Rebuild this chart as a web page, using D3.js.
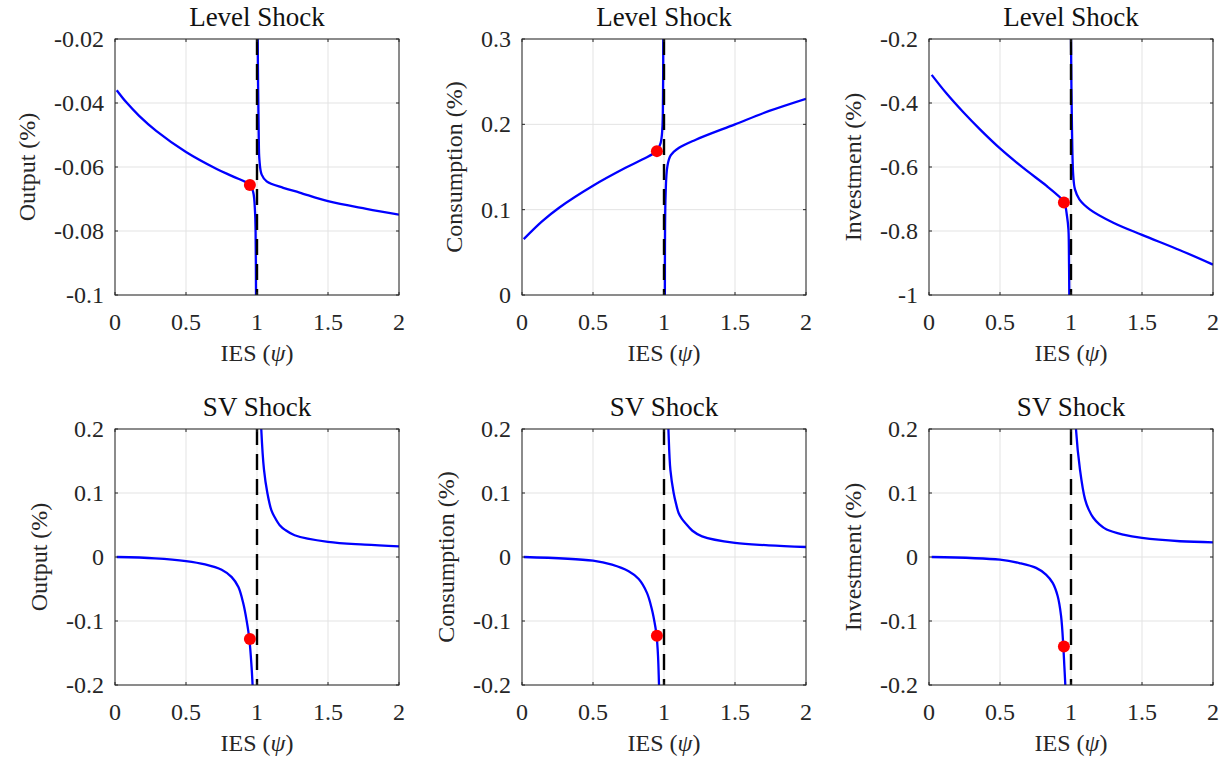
<!DOCTYPE html>
<html>
<head>
<meta charset="utf-8">
<script src="https://cdn.jsdelivr.net/npm/d3@7"></script>
<style>
  html, body { margin: 0; padding: 0; background: #fff; }
  svg text { font-family: "Liberation Serif", "Times New Roman", serif; fill: #262626; }
</style>
</head>
<body>
<svg id="chart" width="1231" height="761"></svg>
<script>
// ---------------- data ----------------
const xTicks = [0, 0.5, 1, 1.5, 2];
const xTickLabels = ["0", "0.5", "1", "1.5", "2"];
const steadyPsi = 0.95;   // red marker position
const asymptotePsi = 1;   // dashed vertical line

// Level shock, Output
const levelOutputLeft = [[0.012,-0.0360],[0.08,-0.0398],[0.17,-0.0440],[0.29,-0.0487],[0.5,-0.0553],[0.716,-0.0606],[0.833,-0.0630],[0.951,-0.0656],[0.974,-0.068],[0.986,-0.074],[0.990,-0.080],[0.993,-0.100],[0.994,-0.110]];
const levelOutputRight = [[1.004,-0.012],[1.005,-0.020],[1.012,-0.0494],[1.017,-0.0577],[1.033,-0.0624],[1.068,-0.0645],[1.185,-0.0665],[1.30,-0.068],[1.5,-0.0707],[1.77,-0.0731],[2.0,-0.0749]];
const levelOutputDot = -0.0656;

// Level shock, Consumption
const levelConsLeft = [[0.012,0.0655],[0.141,0.0863],[0.259,0.102],[0.5,0.128],[0.729,0.149],[0.85,0.159],[0.948,0.1686],[0.976,0.178],[0.988,0.194],[0.993,0.233],[0.995,0.300],[0.996,0.330]];
const levelConsRight = [[1.005,-0.020],[1.006,0.0],[1.011,0.116],[1.024,0.151],[1.047,0.1635],[1.106,0.1725],[1.224,0.182],[1.5,0.200],[1.741,0.2157],[2.0,0.230]];
const levelConsDot = 0.1686;

// Level shock, Investment
const levelInvLeft = [[0.019,-0.312],[0.124,-0.3705],[0.242,-0.429],[0.359,-0.4824],[0.5,-0.542],[0.664,-0.603],[0.828,-0.659],[0.922,-0.6946],[0.953,-0.711],[0.972,-0.754],[0.982,-0.796],[0.986,-0.900],[0.988,-1.000],[0.989,-1.060]];
const levelInvRight = [[0.999,-0.116],[1.0,-0.200],[1.007,-0.482],[1.016,-0.628],[1.028,-0.670],[1.059,-0.701],[1.134,-0.733],[1.298,-0.774],[1.5,-0.812],[1.768,-0.860],[2.0,-0.905]];
const levelInvDot = -0.711;

// SV shock, Output
const svOutputLeft = [[0.012,0.0],[0.282,-0.002],[0.5,-0.0063],[0.634,-0.0115],[0.751,-0.0199],[0.822,-0.0314],[0.869,-0.047],[0.904,-0.0732],[0.927,-0.0994],[0.946,-0.128],[0.962,-0.1725],[0.969,-0.200],[0.976,-0.230]];
const svOutputRight = [[1.026,0.230],[1.030,0.200],[1.049,0.137],[1.073,0.100],[1.101,0.0732],[1.125,0.062],[1.160,0.0497],[1.2,0.042],[1.265,0.034],[1.5,0.0235],[1.758,0.0193],[2.0,0.0167]];
const svOutputDot = -0.128;

// SV shock, Consumption
const svConsLeft = [[0.012,0.0],[0.5,-0.0057],[0.634,-0.012],[0.751,-0.0224],[0.822,-0.0344],[0.880,-0.056],[0.915,-0.082],[0.939,-0.109],[0.948,-0.123],[0.958,-0.155],[0.965,-0.200],[0.970,-0.228]];
const svConsRight = [[1.026,0.230],[1.031,0.200],[1.045,0.136],[1.068,0.100],[1.085,0.083],[1.103,0.0688],[1.125,0.060],[1.150,0.053],[1.2,0.041],[1.268,0.0323],[1.5,0.0219],[1.737,0.0183],[2.0,0.0156]];
const svConsDot = -0.123;

// SV shock, Investment
const svInvLeft = [[0.019,0.0],[0.5,-0.0042],[0.636,-0.0094],[0.754,-0.017],[0.824,-0.0275],[0.871,-0.0405],[0.906,-0.061],[0.930,-0.092],[0.946,-0.140],[0.953,-0.170],[0.960,-0.200],[0.965,-0.230]];
const svInvRight = [[1.030,0.230],[1.035,0.200],[1.063,0.137],[1.099,0.090],[1.125,0.074],[1.157,0.0613],[1.2,0.051],[1.251,0.0429],[1.368,0.035],[1.5,0.0298],[1.768,0.0246],[2.0,0.0230]];
const svInvDot = -0.140;

const outputTicks = [-0.1, -0.08, -0.06, -0.04, -0.02];
const outputTickLabels = ["-0.1", "-0.08", "-0.06", "-0.04", "-0.02"];
const consTicks = [0, 0.1, 0.2, 0.3];
const consTickLabels = ["0", "0.1", "0.2", "0.3"];
const invTicks = [-1, -0.8, -0.6, -0.4, -0.2];
const invTickLabels = ["-1", "-0.8", "-0.6", "-0.4", "-0.2"];
const svTicks = [-0.2, -0.1, 0, 0.1, 0.2];
const svTickLabels = ["-0.2", "-0.1", "0", "0.1", "0.2"];

const panels = [
  {title: "Level Shock", ylabel: "Output (%)", ydom: [-0.1, -0.02], yt: outputTicks, ytl: outputTickLabels, left: levelOutputLeft, right: levelOutputRight, dot: levelOutputDot, col: 0, row: 0},
  {title: "Level Shock", ylabel: "Consumption (%)", ydom: [0, 0.3], yt: consTicks, ytl: consTickLabels, left: levelConsLeft, right: levelConsRight, dot: levelConsDot, col: 1, row: 0},
  {title: "Level Shock", ylabel: "Investment (%)", ydom: [-1, -0.2], yt: invTicks, ytl: invTickLabels, left: levelInvLeft, right: levelInvRight, dot: levelInvDot, col: 2, row: 0},
  {title: "SV Shock", ylabel: "Output (%)", ydom: [-0.2, 0.2], yt: svTicks, ytl: svTickLabels, left: svOutputLeft, right: svOutputRight, dot: svOutputDot, col: 0, row: 1},
  {title: "SV Shock", ylabel: "Consumption (%)", ydom: [-0.2, 0.2], yt: svTicks, ytl: svTickLabels, left: svConsLeft, right: svConsRight, dot: svConsDot, col: 1, row: 1},
  {title: "SV Shock", ylabel: "Investment (%)", ydom: [-0.2, 0.2], yt: svTicks, ytl: svTickLabels, left: svInvLeft, right: svInvRight, dot: svInvDot, col: 2, row: 1},
];

// ---------------- layout ----------------
const colLeft = [115, 522, 929];
const rowTop = [39, 429];
const W = 284, H = 256;
const axisColor = "#262626";
const tickFont = 24;

const svg = d3.select("#chart");

panels.forEach((p, i) => {
  const g = svg.append("g").attr("transform", `translate(${colLeft[p.col]},${rowTop[p.row]})`);
  const x = d3.scaleLinear().domain([0, 2]).range([0, W]);
  const y = d3.scaleLinear().domain(p.ydom).range([H, 0]);

  const clipId = "clip" + i;
  g.append("clipPath").attr("id", clipId).append("rect").attr("width", W).attr("height", H);

  // grid
  g.append("g").selectAll("line.gx").data(xTicks).join("line")
    .attr("x1", d => x(d)).attr("x2", d => x(d)).attr("y1", 0).attr("y2", H)
    .attr("stroke", "#e3e3e3").attr("stroke-width", 1);
  g.append("g").selectAll("line.gy").data(p.yt).join("line")
    .attr("y1", d => y(d)).attr("y2", d => y(d)).attr("x1", 0).attr("x2", W)
    .attr("stroke", "#e3e3e3").attr("stroke-width", 1);

  // curves
  const line = d3.line().x(d => x(d[0])).y(d => y(d[1])).curve(d3.curveCatmullRom.alpha(0.5));
  const cg = g.append("g").attr("clip-path", `url(#${clipId})`);
  [p.left, p.right].forEach(br => {
    cg.append("path").attr("d", line(br)).attr("fill", "none")
      .attr("stroke", "#0000ff").attr("stroke-width", 2.3).attr("stroke-linejoin", "round");
  });

  // dashed asymptote
  g.append("line").attr("x1", x(asymptotePsi)).attr("x2", x(asymptotePsi))
    .attr("y1", 0).attr("y2", H).attr("stroke", "#000").attr("stroke-width", 2.4)
    .attr("stroke-dasharray", "16,9");

  // marker
  g.append("circle").attr("cx", x(steadyPsi)).attr("cy", y(p.dot)).attr("r", 6)
    .attr("fill", "#ff0000");

  // frame
  g.append("rect").attr("width", W).attr("height", H).attr("fill", "none")
    .attr("stroke", axisColor).attr("stroke-width", 1);

  // ticks (inward, all sides)
  const tl = 3;
  xTicks.forEach(t => {
    g.append("line").attr("x1", x(t)).attr("x2", x(t)).attr("y1", H).attr("y2", H - tl).attr("stroke", axisColor);
    g.append("line").attr("x1", x(t)).attr("x2", x(t)).attr("y1", 0).attr("y2", tl).attr("stroke", axisColor);
  });
  p.yt.forEach(t => {
    g.append("line").attr("y1", y(t)).attr("y2", y(t)).attr("x1", 0).attr("x2", tl).attr("stroke", axisColor);
    g.append("line").attr("y1", y(t)).attr("y2", y(t)).attr("x1", W).attr("x2", W - tl).attr("stroke", axisColor);
  });

  // tick labels
  g.append("g").selectAll("text").data(xTicks).join("text")
    .attr("x", d => x(d)).attr("y", H + 35).attr("text-anchor", "middle")
    .attr("font-size", tickFont).text((d, k) => xTickLabels[k]);
  const yl = g.append("g");
  yl.selectAll("text").data(p.yt).join("text")
    .attr("x", -11).attr("y", d => y(d) + 8).attr("text-anchor", "end")
    .attr("font-size", tickFont).text((d, k) => p.ytl[k]);
  const bb = yl.node().getBBox();

  // title
  g.append("text").attr("x", W / 2).attr("y", -13).attr("text-anchor", "middle")
    .attr("font-size", 27).style("fill", "#111").text(p.title);

  // x label
  const xl = g.append("text").attr("x", W / 2).attr("y", H + 66).attr("text-anchor", "middle")
    .attr("font-size", tickFont);
  xl.append("tspan").text("IES (");
  xl.append("tspan").attr("font-style", "italic").text("ψ");
  xl.append("tspan").text(")");

  // y label
  const lx = bb.x - 19;
  g.append("text").attr("transform", `translate(${lx},${H / 2}) rotate(-90)`)
    .attr("text-anchor", "middle").attr("font-size", tickFont).text(p.ylabel);
});
</script>
</body>
</html>
